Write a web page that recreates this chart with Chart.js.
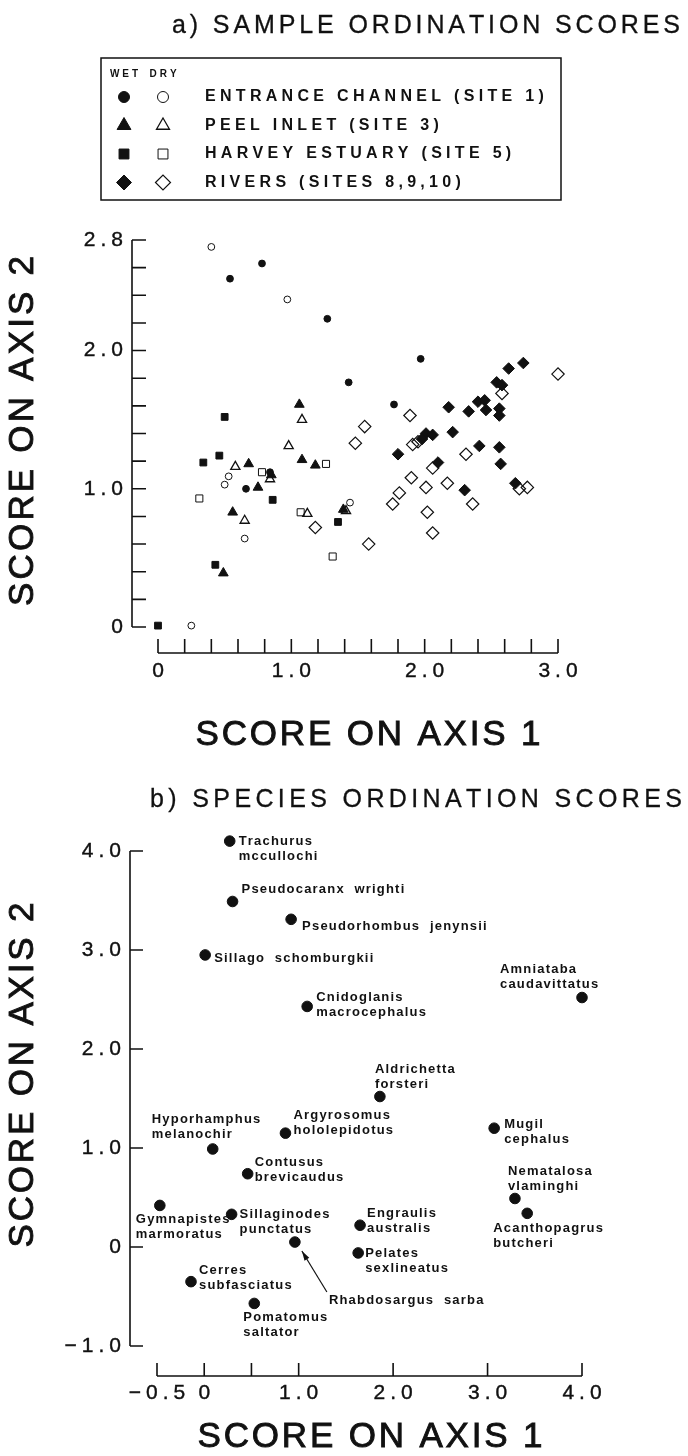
<!DOCTYPE html>
<html>
<head>
<meta charset="utf-8">
<script src="https://cdn.jsdelivr.net/npm/chart.js@4.4.1/dist/chart.umd.min.js"></script>
<style>
  html, body { margin: 0; padding: 0; background: #fff; }
  #wrap { position: relative; width: 688px; height: 1456px; }
  canvas { position: absolute; left: 0; }
  #chartA { top: 0; }
  #chartB { top: 760px; }
</style>
</head>
<body>
<div id="wrap">
  <canvas id="chartA" width="688" height="760"></canvas>
  <canvas id="chartB" width="688" height="696"></canvas>
</div>
<script>
// ---------- a) sample ordination scores, [axis 1, axis 2] ----------
const siteNames = ['ENTRANCE CHANNEL (SITE 1)', 'PEEL INLET (SITE 3)', 'HARVEY ESTUARY (SITE 5)', 'RIVERS (SITES 8,9,10)'];

const entranceWet = [[0.54, 2.52], [0.78, 2.63], [1.27, 2.23], [1.43, 1.77], [1.97, 1.94], [1.77, 1.61], [0.66, 1.00], [0.84, 1.12]];
const entranceDry = [[0.40, 2.75], [0.97, 2.37], [0.25, 0.01], [0.50, 1.03], [0.53, 1.09], [0.65, 0.64], [1.44, 0.90]];
const peelWet = [[1.06, 1.61], [1.08, 1.21], [1.18, 1.17], [0.68, 1.18], [0.85, 1.10], [0.75, 1.01], [0.56, 0.83], [0.49, 0.39], [1.39, 0.85]];
const peelDry = [[1.08, 1.50], [0.98, 1.31], [0.58, 1.16], [0.84, 1.07], [1.12, 0.82], [0.65, 0.77], [1.41, 0.84]];
const harveyWet = [[0.00, 0.01], [0.34, 1.19], [0.46, 1.24], [0.50, 1.52], [0.43, 0.45], [0.86, 0.92], [1.35, 0.76]];
const harveyDry = [[0.31, 0.93], [0.78, 1.12], [1.07, 0.83], [1.26, 1.18], [1.31, 0.51]];
const riversWet = [[2.18, 1.59], [2.33, 1.56], [2.40, 1.63], [2.45, 1.64], [2.46, 1.57], [2.56, 1.58], [2.56, 1.53],
  [2.54, 1.77], [2.58, 1.75], [2.63, 1.87], [2.74, 1.91], [2.01, 1.40], [2.06, 1.39], [1.98, 1.36], [2.21, 1.41],
  [2.41, 1.31], [2.56, 1.30], [1.80, 1.25], [2.57, 1.18], [2.10, 1.19], [2.30, 0.99], [2.68, 1.04]];
const riversDry = [[1.48, 1.33], [1.91, 1.32], [1.95, 1.34], [2.31, 1.25], [2.06, 1.15], [1.90, 1.08], [2.01, 1.01],
  [2.17, 1.04], [1.81, 0.97], [1.76, 0.89], [2.36, 0.89], [2.02, 0.83], [2.06, 0.68], [1.58, 0.60], [1.89, 1.53],
  [1.55, 1.45], [3.00, 1.83], [2.58, 1.69], [2.71, 1.00], [2.77, 1.01], [1.18, 0.72]];

const aXTicks = [0, 0.2, 0.4, 0.6, 0.8, 1.0, 1.2, 1.4, 1.6, 1.8, 2.0, 2.2, 2.4, 2.6, 2.8, 3.0];
const aXLabelAt = [0, 1, 2, 3];
const aXTickLabels = ['0', '1.0', '2.0', '3.0'];
const aYTicks = [0, 0.2, 0.4, 0.6, 0.8, 1.0, 1.2, 1.4, 1.6, 1.8, 2.0, 2.2, 2.4, 2.6, 2.8];
const aYLabelAt = [0, 1, 2, 2.8];
const aYTickLabels = ['0', '1.0', '2.0', '2.8'];

// ---------- b) species ordination scores ----------
const species = [
  ['Trachurus', 'mccullochi'], ['Pseudocaranx  wrighti'], ['Pseudorhombus  jenynsii'], ['Sillago  schomburgkii'],
  ['Amniataba', 'caudavittatus'], ['Cnidoglanis', 'macrocephalus'], ['Aldrichetta', 'forsteri'],
  ['Argyrosomus', 'hololepidotus'], ['Hyporhamphus', 'melanochir'], ['Mugil', 'cephalus'], ['Contusus', 'brevicaudus'],
  ['Nematalosa', 'vlaminghi'], ['Gymnapistes', 'marmoratus'], ['Sillaginodes', 'punctatus'], ['Engraulis', 'australis'],
  ['Acanthopagrus', 'butcheri'], ['Rhabdosargus  sarba'], ['Pelates', 'sexlineatus'], ['Cerres', 'subfasciatus'],
  ['Pomatomus', 'saltator']
];
const speciesX = [0.27, 0.30, 0.92, 0.01, 4.00, 1.09, 1.86, 0.86, 0.09, 3.07, 0.46, 3.29, -0.47, 0.29, 1.65, 3.42, 0.96, 1.63, -0.14, 0.53];
const speciesY = [4.10, 3.49, 3.31, 2.95, 2.52, 2.43, 1.52, 1.15, 0.99, 1.20, 0.74, 0.49, 0.42, 0.33, 0.22, 0.34, 0.05, -0.06, -0.35, -0.57];

const bXTicks = [-0.5, 0, 0.5, 1, 2, 3, 4];
const bXLabelAt = [-0.5, 0, 1, 2, 3, 4];
const bXTickLabels = ['\u22120.5', '0', '1.0', '2.0', '3.0', '4.0'];
const bYTicks = [-1, 0, 1, 2, 3, 4];
const bYTickLabels = ['\u22121.0', '0', '1.0', '2.0', '3.0', '4.0'];

// label placement next to each species point: [dx, dy] in px
const labelPlace = [
  [9, 0], [9, -12], [11, 7], [9, 3], [-82, -28], [9, -9], [-5, -27], [8, -18], [-61, -30], [10, -4], [7, -11],
  [-7, -27], [-24, 14], [8, 0], [7, -12], [-34, 15], [34, 58], [7, 0], [8, -11], [-11, 14]
];

const FONT = '"Liberation Sans", Arial, Helvetica, sans-serif';
const INK = '#111';

function textWidth(ctx, text, sp) {
  let w = 0;
  for (const ch of text) w += ctx.measureText(ch).width;
  return w + sp * (text.length - 1);
}

// letter-spaced text, drawn glyph by glyph
function putText(ctx, text, x, y, o) {
  ctx.save();
  ctx.font = (o.weight || 'normal') + ' ' + o.size + 'px ' + FONT;
  ctx.fillStyle = INK;
  ctx.strokeStyle = INK;
  ctx.lineWidth = o.stroke || 0;
  ctx.textAlign = 'left';
  ctx.textBaseline = 'middle';
  let sp = o.spacing || 0;
  if (o.width) sp = (o.width - textWidth(ctx, text, 0)) / (text.length - 1);
  const w = textWidth(ctx, text, sp);
  let cx = x;
  if (o.align === 'center') cx = x - w / 2;
  else if (o.align === 'right') cx = x - w;
  for (const ch of text) {
    ctx.fillText(ch, cx, y);
    if (o.stroke) ctx.strokeText(ch, cx, y);
    cx += ctx.measureText(ch).width + sp;
  }
  ctx.restore();
}

// axes drawn apart from the data, ticks pointing inward
function makeFrame(cfg) {
  return {
    id: 'frame',
    afterDraw(chart) {
      const {ctx, scales: {x, y}} = chart;
      ctx.save();
      ctx.strokeStyle = INK;
      ctx.lineWidth = 1.6;
      ctx.beginPath();
      ctx.moveTo(cfg.yAxisX, y.getPixelForValue(cfg.yRange[1]));
      ctx.lineTo(cfg.yAxisX, y.getPixelForValue(cfg.yRange[0]));
      cfg.yTicks.forEach(v => {
        const py = y.getPixelForValue(v);
        ctx.moveTo(cfg.yAxisX, py);
        ctx.lineTo(cfg.yAxisX + cfg.tickLen, py);
      });
      ctx.moveTo(x.getPixelForValue(cfg.xRange[0]), cfg.xAxisY);
      ctx.lineTo(x.getPixelForValue(cfg.xRange[1]), cfg.xAxisY);
      cfg.xTicks.forEach(v => {
        const px = x.getPixelForValue(v);
        ctx.moveTo(px, cfg.xAxisY);
        ctx.lineTo(px, cfg.xAxisY - cfg.tickLen);
      });
      ctx.stroke();
      ctx.restore();

      const lab = {size: 21, spacing: 5, stroke: 0.4};
      cfg.yLabelAt.forEach((v, i) => putText(ctx, cfg.yLabels[i], cfg.yLabelRight, y.getPixelForValue(v), {...lab, align: 'right'}));
      cfg.xLabelAt.forEach((v, i) => putText(ctx, cfg.xLabels[i], x.getPixelForValue(v), cfg.xLabelY, {...lab, align: 'center'}));

      cfg.texts.forEach(t => {
        ctx.save();
        ctx.translate(t.x, t.y);
        if (t.rotate) ctx.rotate(t.rotate);
        putText(ctx, t.text, 0, 0, t);
        ctx.restore();
      });
    }
  };
}

function makeSiteLegend(cfg) {
  return {
    id: 'siteLegend',
    afterDraw(chart) {
      const ctx = chart.ctx;
      const ds = chart.data.datasets;
      ctx.save();
      ctx.strokeStyle = INK;
      ctx.lineWidth = 1.5;
      ctx.strokeRect(cfg.box[0], cfg.box[1], cfg.box[2], cfg.box[3]);
      ctx.restore();
      putText(ctx, 'WET', cfg.wetX, cfg.headY, {size: 10, weight: 'bold', spacing: 3, align: 'center'});
      putText(ctx, 'DRY', cfg.dryX, cfg.headY, {size: 10, weight: 'bold', spacing: 3, align: 'center'});
      siteNames.forEach((name, i) => {
        const ry = cfg.rowY0 + i * cfg.rowGap;
        [ds[2 * i], ds[2 * i + 1]].forEach((d, k) => {
          ctx.save();
          ctx.fillStyle = d.pointBackgroundColor;
          ctx.strokeStyle = d.pointBorderColor;
          ctx.lineWidth = d.pointBorderWidth;
          Chart.helpers.drawPoint(ctx, {pointStyle: d.pointStyle, radius: cfg.symbolR[2 * i + k], borderWidth: d.pointBorderWidth, rotation: 0},
            k ? cfg.dryX : cfg.wetX, ry);
          ctx.restore();
        });
        putText(ctx, name, cfg.textX, ry, {size: 16, weight: 'bold', spacing: cfg.spacing});
      });
    }
  };
}

function makeSpeciesLabels(cfg) {
  return {
    id: 'speciesLabels',
    afterDatasetsDraw(chart) {
      const ctx = chart.ctx;
      const pts = chart.getDatasetMeta(0).data;
      species.forEach((lines, i) => {
        const p = pts[i];
        const [dx, dy] = labelPlace[i];
        lines.forEach((ln, k) => putText(ctx, ln, p.x + dx, p.y + dy + k * cfg.lineGap, {size: 13, weight: 'bold', spacing: 1.2}));
      });
      // pointer from the Rhabdosargus label up to its point
      const p = pts[cfg.arrowIndex];
      const x0 = p.x + cfg.arrowFrom[0], y0 = p.y + cfg.arrowFrom[1];
      const x1 = p.x + cfg.arrowTo[0], y1 = p.y + cfg.arrowTo[1];
      const a = Math.atan2(y1 - y0, x1 - x0);
      ctx.save();
      ctx.strokeStyle = INK;
      ctx.fillStyle = INK;
      ctx.lineWidth = 1.2;
      ctx.beginPath();
      ctx.moveTo(x0, y0);
      ctx.lineTo(x1, y1);
      ctx.stroke();
      ctx.beginPath();
      ctx.moveTo(x1, y1);
      ctx.lineTo(x1 - 10 * Math.cos(a - 0.28), y1 - 10 * Math.sin(a - 0.28));
      ctx.lineTo(x1 - 10 * Math.cos(a + 0.28), y1 - 10 * Math.sin(a + 0.28));
      ctx.closePath();
      ctx.fill();
      ctx.restore();
    }
  };
}

function pts(arr) {
  return arr.map(([x, y]) => ({x, y}));
}

function series(label, data, style, radius, filled, border) {
  return {
    label: label,
    data: pts(data),
    pointStyle: style,
    pointRadius: radius,
    pointBackgroundColor: filled ? INK : 'rgba(0,0,0,0)',
    pointBorderColor: INK,
    pointBorderWidth: border,
    clip: false
  };
}

const common = {
  responsive: false,
  animation: false,
  devicePixelRatio: 1,
  events: [],
  plugins: {legend: {display: false}, tooltip: {enabled: false}, title: {display: false}}
};

// ---------- chart a ----------
new Chart(document.getElementById('chartA'), {
  type: 'scatter',
  data: {
    datasets: [
      series(siteNames[0] + ' wet', entranceWet, 'circle', 3.4, true, 1),
      series(siteNames[0] + ' dry', entranceDry, 'circle', 3.4, false, 1),
      series(siteNames[1] + ' wet', peelWet, 'triangle', 5.6, true, 1),
      series(siteNames[1] + ' dry', peelDry, 'triangle', 5.3, false, 1.3),
      series(siteNames[2] + ' wet', harveyWet, 'rect', 4.8, true, 1),
      series(siteNames[2] + ' dry', harveyDry, 'rect', 5, false, 1),
      series(siteNames[3] + ' wet', riversWet, 'rectRot', 5.8, true, 1),
      series(siteNames[3] + ' dry', riversDry, 'rectRot', 6.2, false, 1.2)
    ]
  },
  options: {
    ...common,
    layout: {padding: {left: 158, right: 130, top: 240, bottom: 133}},
    scales: {
      x: {type: 'linear', min: 0, max: 3, display: false},
      y: {type: 'linear', min: 0, max: 2.8, display: false}
    }
  },
  plugins: [
    makeFrame({
      xRange: [0, 3], yRange: [0, 2.8],
      yAxisX: 132, xAxisY: 653, tickLen: 14,
      xTicks: aXTicks, yTicks: aYTicks,
      xLabelAt: aXLabelAt, xLabels: aXTickLabels, yLabelAt: aYLabelAt, yLabels: aYTickLabels,
      yLabelRight: 123, xLabelY: 671,
      texts: [
        {text: 'a) SAMPLE ORDINATION SCORES', x: 172, y: 26, size: 25, width: 508, stroke: 0.3},
        {text: 'SCORE ON AXIS 1', x: 368, y: 735, size: 35, width: 345, align: 'center', stroke: 0.9},
        {text: 'SCORE ON AXIS 2', x: 23, y: 431, size: 35, width: 350, align: 'center', rotate: -Math.PI / 2, stroke: 0.9}
      ]
    }),
    makeSiteLegend({
      box: [101, 58, 460, 142], wetX: 124, dryX: 163, headY: 74, rowY0: 97, rowGap: 28.5,
      textX: 205, spacing: 4.3, symbolR: [5.5, 5.5, 8, 7.5, 7, 7, 7.5, 7.5]
    })
  ]
});

// ---------- chart b ----------
new Chart(document.getElementById('chartB'), {
  type: 'scatter',
  data: {
    datasets: [{
      label: 'Species',
      data: speciesX.map((x, i) => ({x: x, y: speciesY[i]})),
      pointStyle: 'circle',
      pointRadius: 5.3,
      pointBackgroundColor: INK,
      pointBorderColor: INK,
      pointBorderWidth: 1,
      clip: false
    }]
  },
  options: {
    ...common,
    layout: {padding: {left: 157, right: 106, top: 71.2, bottom: 110}},
    scales: {
      x: {type: 'linear', min: -0.5, max: 4, display: false},
      y: {type: 'linear', min: -1, max: 4.2, display: false}
    }
  },
  plugins: [
    makeSpeciesLabels({lineGap: 15, arrowIndex: 16, arrowFrom: [32, 50], arrowTo: [7, 9]}),
    makeFrame({
      xRange: [-0.5, 4], yRange: [-1, 4],
      yAxisX: 130, xAxisY: 616, tickLen: 13,
      xTicks: bXTicks, yTicks: bYTicks,
      xLabelAt: bXLabelAt, xLabels: bXTickLabels, yLabelAt: bYTicks, yLabels: bYTickLabels,
      yLabelRight: 121, xLabelY: 633,
      texts: [
        {text: 'b) SPECIES ORDINATION SCORES', x: 150, y: 40, size: 25, width: 532, stroke: 0.3},
        {text: 'SCORE ON AXIS 1', x: 370, y: 677, size: 35, width: 345, align: 'center', stroke: 0.9},
        {text: 'SCORE ON AXIS 2', x: 23, y: 315, size: 35, width: 345, align: 'center', rotate: -Math.PI / 2, stroke: 0.9}
      ]
    })
  ]
});
</script>
</body>
</html>
